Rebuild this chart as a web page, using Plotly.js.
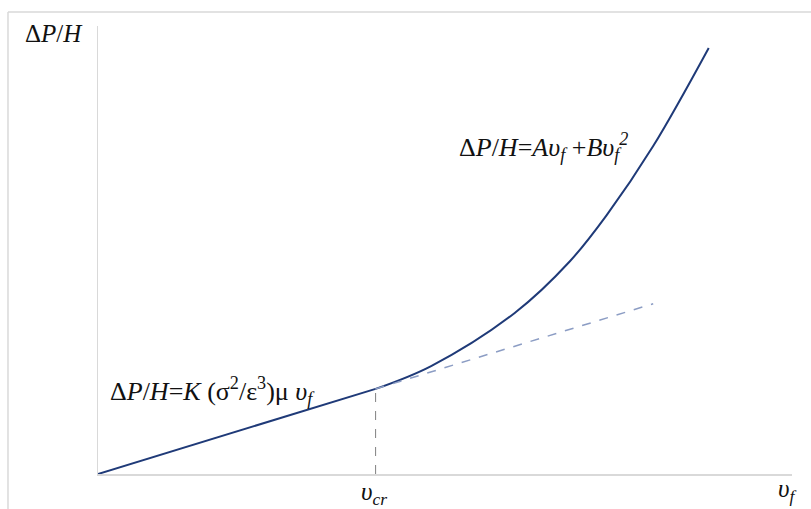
<!DOCTYPE html>
<html>
<head>
<meta charset="utf-8">
<script src="https://cdn.plot.ly/plotly-3.0.1.min.js"></script>
<style>html,body{margin:0;padding:0;background:#fff;}#chart{width:811px;height:509px;}</style>
</head>
<body>
<div id="chart"></div>
<script>
// Linear (laminar) region
var linX = [0, 2, 4];
var linY = [0, 0.95, 1.9];
// Quadratic (Ergun) region
var curveX = [4, 4.8, 6, 6.8, 7.33, 8, 8.8];
var curveY = [1.9, 2.41, 3.59, 4.75, 5.78, 7.32, 9.51];
// Dashed extension of the linear law
var extX = [4, 8];
var extY = [1.9, 3.8];
// Critical velocity marker
var crX = [4, 4];
var crY = [0, 1.9];

var navy = '#1f3a78';
var serif = 'Liberation Serif';

var traces = [
  {x: linX, y: linY, mode: 'lines', line: {color: navy, width: 2}, hoverinfo: 'skip'},
  {x: curveX, y: curveY, mode: 'lines', line: {color: navy, width: 2, shape: 'spline', smoothing: 1}, hoverinfo: 'skip'},
  {x: extX, y: extY, mode: 'lines', line: {color: '#8c9dc4', width: 1.5, dash: 'dash'}, hoverinfo: 'skip'},
  {x: crX, y: crY, mode: 'lines', line: {color: '#808080', width: 1, dash: 'dash'}, hoverinfo: 'skip'}
];

function f(s) { return {family: serif, size: s, color: '#111'}; }

var layout = {
  width: 811, height: 509,
  margin: {l: 98, r: 19, t: 26, b: 35},
  paper_bgcolor: '#fff', plot_bgcolor: '#fff',
  font: {family: serif},
  showlegend: false,
  xaxis: {range: [0, 10], showline: true, linecolor: '#d9d9d9', linewidth: 1.5,
          showgrid: false, zeroline: false, showticklabels: false, ticks: ''},
  yaxis: {range: [0, 10], showline: true, linecolor: '#d9d9d9', linewidth: 1.5,
          showgrid: false, zeroline: false, showticklabels: false, ticks: ''},
  shapes: [
    {type: 'line', xref: 'paper', yref: 'paper', x0: -0.1297, x1: -0.1297, y0: 1.031, y1: -0.12,
     line: {color: '#d9d9d9', width: 1.5}},
    {type: 'line', xref: 'paper', yref: 'paper', x0: -0.1297, x1: 1.06, y0: 1.031, y1: 1.031,
     line: {color: '#d9d9d9', width: 1.5}}
  ],
  annotations: [
    {x: -0.0634, y: 0.984, xref: 'paper', yref: 'paper', xanchor: 'center', yanchor: 'middle',
     showarrow: false, font: f(25), text: 'Δ<i>P</i>/<i>H</i>'},
    {x: 5.17, y: 7.3, xref: 'x', yref: 'y', xanchor: 'left', yanchor: 'middle', showarrow: false, font: f(26),
     text: 'Δ<i>P</i>/<i>H</i>=<i>Aυ<sub>f</sub></i> +<i>Bυ<sub>f</sub><sup>2</sup></i>'},
    {x: 0.144, y: 1.86, xref: 'x', yref: 'y', xanchor: 'left', yanchor: 'middle', showarrow: false, font: f(26),
     text: 'Δ<i>P</i>/<i>H</i>=<i>K</i> (σ<sup>2</sup>/ε<sup>3</sup>)μ <i>υ<sub>f</sub></i>'},
    {x: 0.3977, y: -0.043, xref: 'paper', yref: 'paper', xanchor: 'center', yanchor: 'middle',
     showarrow: false, font: f(25), text: '<i>υ<sub>cr</sub></i>'},
    {x: 0.993, y: -0.036, xref: 'paper', yref: 'paper', xanchor: 'center', yanchor: 'middle',
     showarrow: false, font: f(25), text: '<i>υ<sub>f</sub></i>'}
  ]
};

Plotly.newPlot('chart', traces, layout, {displayModeBar: false, staticPlot: true});
</script>
</body>
</html>
